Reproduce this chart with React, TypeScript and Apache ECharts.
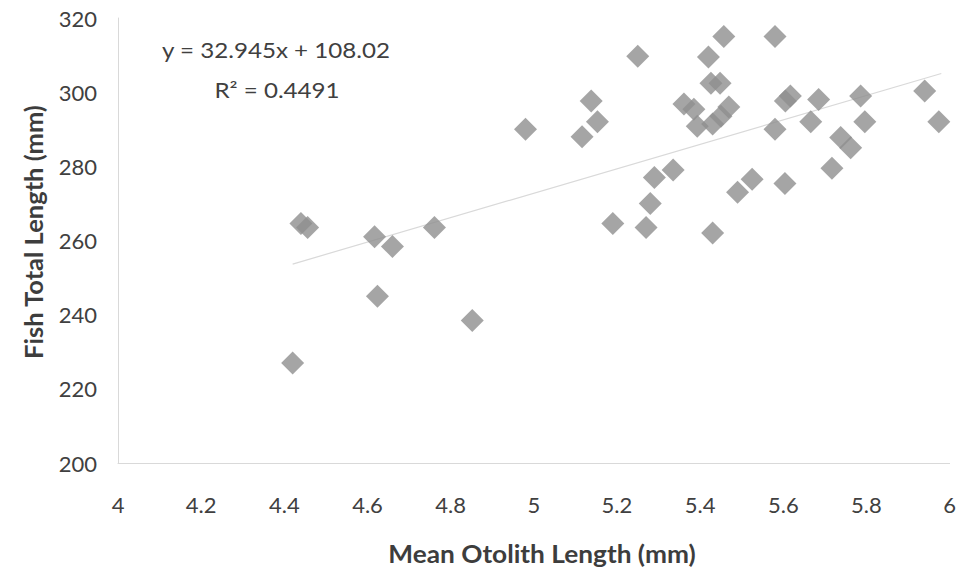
import React, { useEffect, useRef } from "react";
import * as echarts from "echarts";

const otolithLength = [
  4.42, 4.44, 4.456, 4.617, 4.624, 4.66, 4.761, 4.852, 4.98, 5.116,
  5.138, 5.153, 5.19, 5.25, 5.27, 5.28, 5.29, 5.335, 5.361, 5.385,
  5.393, 5.42, 5.426, 5.448, 5.43, 5.45, 5.469, 5.457, 5.43, 5.49,
  5.525, 5.58, 5.58, 5.604, 5.605, 5.617, 5.666, 5.685, 5.717, 5.738,
  5.762, 5.786, 5.796, 5.94, 5.974,
];
const fishLength = [
  227, 264.6, 263.5, 261, 245, 258.4, 263.5, 238.4, 290, 288,
  297.6, 292, 264.6, 309.7, 263.5, 270, 277, 279, 296.8, 295.4,
  290.8, 309.5, 302.4, 302.4, 291.4, 293.5, 296, 315, 262, 273,
  276.5, 315, 290, 275.4, 297.6, 299, 292, 298, 279.5, 287.8,
  285, 299, 292, 300.3, 292,
];
const trendSlope = 32.945;
const trendIntercept = 108.02;
const trendRange = [4.42, 5.98];
const equationLines = ["y = 32.945x + 108.02", "R² = 0.4491"];
const xTitle = "Mean Otolith Length (mm)";
const yTitle = "Fish Total Length (mm)";

export default function App() {
  const ref = useRef<HTMLDivElement>(null);
  useEffect(() => {
    if (!ref.current) return;
    const chart = echarts.init(ref.current, null, { renderer: "svg" });
    const points = otolithLength.map((x, i) => [x, fishLength[i]]);
    const trend = trendRange.map((x) => [x, trendSlope * x + trendIntercept]);
    const font = "Lato, 'Open Sans', sans-serif";
    chart.setOption({
      animation: false,
      backgroundColor: "#ffffff",
      grid: { left: 118, right: 8, top: 18, bottom: 104, containLabel: false },
      xAxis: {
        type: "value",
        min: 4,
        max: 6,
        interval: 0.2,
        axisLine: { show: true, lineStyle: { color: "#d9d9d9", width: 1 } },
        axisTick: { show: false },
        splitLine: { show: false },
        axisLabel: {
          color: "#404040",
          fontSize: 22,
          fontFamily: font,
          margin: 30,
          formatter: (v: number) => String(Math.round(v * 10) / 10),
        },
      },
      yAxis: {
        type: "value",
        min: 200,
        max: 320,
        interval: 20,
        axisLine: { show: true, lineStyle: { color: "#d9d9d9", width: 1 } },
        axisTick: { show: false },
        splitLine: { show: false },
        axisLabel: { color: "#404040", fontSize: 22, fontFamily: font, margin: 21 },
      },
      series: [
        {
          type: "line",
          data: trend,
          symbol: "none",
          lineStyle: { color: "#d9d9d9", width: 1.2 },
          z: 1,
        },
        {
          type: "scatter",
          data: points,
          symbol: "diamond",
          symbolSize: [23, 23],
          itemStyle: { color: "#8e8e8e" },
          z: 2,
        },
      ],
      graphic: [
        {
          type: "text",
          x: 276,
          y: 50,
          scaleX: 1.15,
          style: {
            text: equationLines[0],
            fontSize: 21,
            fontFamily: font,
            fill: "#404040",
            align: "center",
            verticalAlign: "middle",
          },
        },
        {
          type: "text",
          x: 277,
          y: 90,
          scaleX: 1.15,
          style: {
            text: equationLines[1],
            fontSize: 21,
            fontFamily: font,
            fill: "#404040",
            align: "center",
            verticalAlign: "middle",
          },
        },
        {
          type: "text",
          x: 542,
          y: 553,
          scaleX: 1.05,
          style: {
            text: xTitle,
            fontSize: 25,
            fontWeight: "bold",
            fontFamily: font,
            fill: "#3d3d3d",
            align: "center",
            verticalAlign: "middle",
          },
        },
        {
          type: "text",
          x: 33,
          y: 232,
          rotation: Math.PI / 2,
          scaleX: 1.02,
          style: {
            text: yTitle,
            fontSize: 25,
            fontWeight: "bold",
            fontFamily: font,
            fill: "#3d3d3d",
            align: "center",
            verticalAlign: "middle",
          },
        },
      ],
    });
    return () => chart.dispose();
  }, []);
  return (
    <div
      ref={ref}
      style={{ position: "fixed", left: 0, top: 0, width: 959, height: 567, background: "#fff" }}
    />
  );
}
